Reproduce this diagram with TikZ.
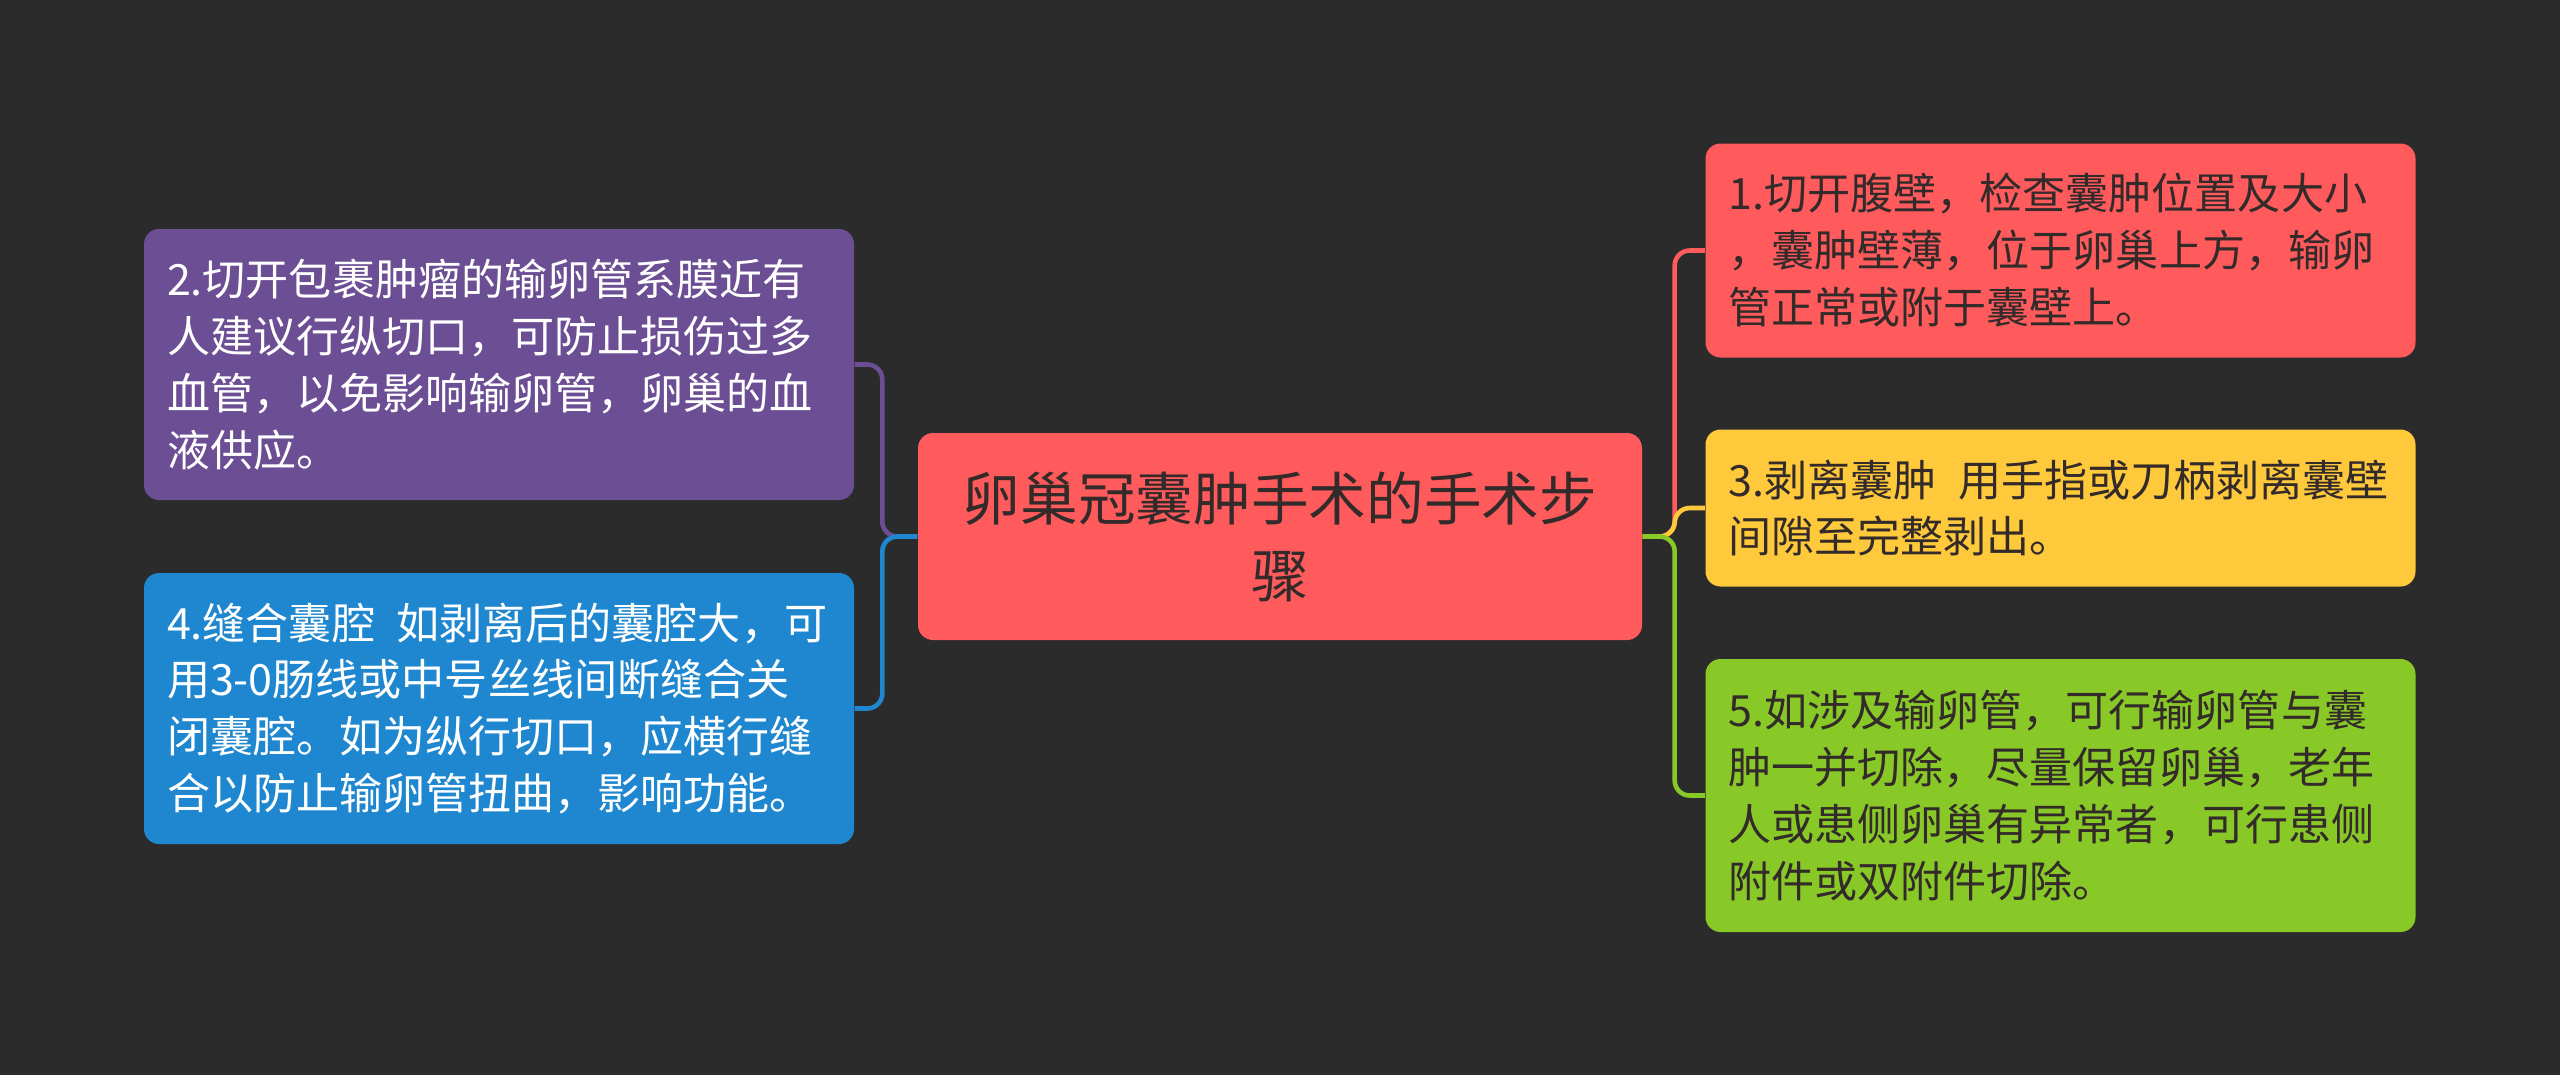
\documentclass[tikz,border=0pt]{standalone}
\usepackage{fontspec}
\newfontfamily\cjk{Noto Sans CJK SC}
\definecolor{bgDark}{HTML}{2B2B2B}
\definecolor{stepRed}{HTML}{FF5A5C}
\definecolor{stepPurple}{HTML}{6B4E94}
\definecolor{stepBlue}{HTML}{1E87CF}
\definecolor{stepYellow}{HTML}{FFC93C}
\definecolor{stepGreen}{HTML}{88C928}
\definecolor{inkDark}{HTML}{332A2A}
\newcommand{\gapsp}{\nobreak\hspace{0.5em}\nobreak}
\tikzset{
  stepbox/.style={rounded corners=1.5mm, inner xsep=2.3mm, inner ysep=0pt,
    text width=66.4mm, align=left, minimum width=71mm,
    font=\cjk\fontsize{12.25}{16.2}\selectfont},
  rootbox/.style={rounded corners=1.5mm, fill=stepRed, text=inkDark,
    minimum width=72.4mm, minimum height=20.7mm, align=center,
    font=\cjk\fontsize{16.4}{21.9}\selectfont},
  link/.style={line width=1.3pt, rounded corners=1.5mm}
}
\begin{document}
\begin{tikzpicture}[x=0.1mm, y=-0.1mm]
            \useasboundingbox[fill=bgDark] (0,0) rectangle (2560,1075);

            \node[rootbox] (c) at (1280,536.5) {卵巢冠囊肿手术的手术步\\骤};

            % left side
            \node[stepbox, fill=stepPurple, text=white, minimum height=27.1mm] (n2) at (499,364.5)
                {2.切开包裹肿瘤的输卵管系膜近有\\人建议行纵切口，可防止损伤过多\\血管，以免影响输卵管，卵巢的血\\液供应。};
            \node[stepbox, fill=stepBlue, text=white, minimum height=27.1mm] (n4) at (499,708.5)
                {4.缝合囊腔\gapsp 如剥离后的囊腔大，可\\用3-0肠线或中号丝线间断缝合关\\闭囊腔。如为纵行切口，应横行缝\\合以防止输卵管扭曲，影响功能。};

            % right side
            \node[stepbox, fill=stepRed, text=inkDark, minimum height=21.4mm] (n1) at (2060.5,250.5)
                {1.切开腹壁，检查囊肿位置及大小\\，囊肿壁薄，位于卵巢上方，输卵\\管正常或附于囊壁上。};
            \node[stepbox, fill=stepYellow, text=inkDark, minimum height=15.7mm] (n3) at (2060.5,508)
                {3.剥离囊肿\gapsp 用手指或刀柄剥离囊壁\\间隙至完整剥出。};
            \node[stepbox, fill=stepGreen, text=inkDark, minimum height=27.3mm] (n5) at (2060.5,795.5)
                {5.如涉及输卵管，可行输卵管与囊\\肿一并切除，尽量保留卵巢，老年\\人或患侧卵巢有异常者，可行患侧\\附件或双附件切除。};

            \foreach \v/\col in {2/stepPurple, 4/stepBlue}{
                \draw[link, \col] (c.west) -- ++(-35,0) |- (n\v.east);
            }
            \foreach \v/\col in {1/stepRed, 3/stepYellow, 5/stepGreen}{
                \draw[link, \col] (c.east) -- ++(32,0) |- (n\v.west);
            }
        \end{tikzpicture}
\end{document}
